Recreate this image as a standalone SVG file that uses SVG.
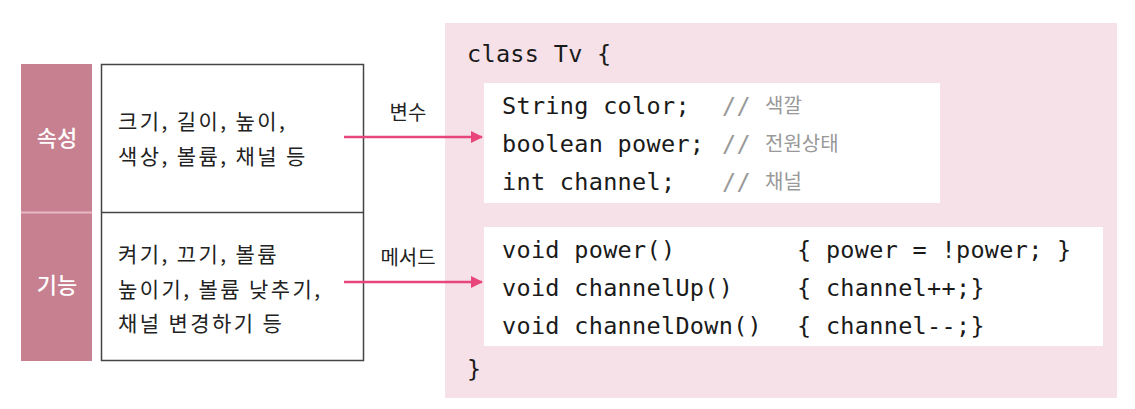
<svg xmlns="http://www.w3.org/2000/svg" width="1135" height="409" viewBox="0 0 1135 409">
<style>
.kr{font-family:"Noto Sans CJK KR","Noto Sans",sans-serif;font-size:21px;fill:#222;letter-spacing:2.4px}
.lbl{font-family:"Noto Sans CJK KR","Noto Sans",sans-serif;font-size:20px;fill:#222;text-anchor:middle}
.lab{font-family:"Noto Sans CJK KR","Noto Sans",sans-serif;font-size:22px;font-weight:500;fill:#fff;text-anchor:middle}
.code{font-family:"DejaVu Sans Mono","Liberation Mono",monospace;font-size:23.5px;fill:#1a1a1a;letter-spacing:0.3px}
.cm{font-family:"DejaVu Sans Mono","Liberation Mono",monospace;font-size:23.5px;fill:#999;letter-spacing:0.3px}
.cmk{font-family:"Noto Sans CJK KR","Noto Sans",sans-serif;font-size:20px;fill:#999}
.conn{stroke:#e8457a;stroke-width:2.5;fill:none}
</style>
<defs>
<marker id="ah" markerWidth="12" markerHeight="12" refX="11" refY="6" orient="auto" markerUnits="userSpaceOnUse">
<path d="M0,0 L12,6 L0,12 z" fill="#e8457a"/>
</marker>
</defs>
<rect width="1135" height="409" fill="#fff"/>
<g id="category">
<rect x="21" y="64" width="71" height="297" fill="#c7808f"/>
<line x1="21" y1="212.5" x2="92" y2="212.5" stroke="#e8b8c4" stroke-width="2"/>
<text class="lab" x="57" y="146">속성</text>
<text class="lab" x="57" y="293">기능</text>
</g>
<g id="desc">
<rect x="101.5" y="64.5" width="262" height="296" fill="#fff" stroke="#444" stroke-width="1.5"/>
<line x1="101.5" y1="212.5" x2="363.5" y2="212.5" stroke="#444" stroke-width="1.5"/>
<text class="kr" x="118" y="129">크기, 길이, 높이,</text>
<text class="kr" x="118" y="164">색상, 볼륨, 채널 등</text>
<text class="kr" x="118" y="262">켜기, 끄기, 볼륨</text>
<text class="kr" x="118" y="297">높이기, 볼륨 낮추기,</text>
<text class="kr" x="118" y="331">채널 변경하기 등</text>
</g>
<g id="class-panel">
<rect x="445" y="23" width="672" height="375" fill="#f5e1e7"/>
<text class="code" x="467" y="62">class Tv {</text>
<text class="code" x="467" y="377">}</text>
</g>
<g id="fields">
<rect x="484" y="83" width="456" height="120" fill="#fff"/>
<text class="code" x="502" y="114">String color;</text>
<text class="cm" x="722" y="114">//</text><text class="cmk" x="765" y="113">색깔</text>
<text class="code" x="502" y="152">boolean power;</text>
<text class="cm" x="722" y="152">//</text><text class="cmk" x="765" y="151">전원상태</text>
<text class="code" x="502" y="190">int channel;</text>
<text class="cm" x="722" y="190">//</text><text class="cmk" x="765" y="189">채널</text>
</g>
<g id="methods">
<rect x="484" y="227" width="619" height="119" fill="#fff"/>
<text class="code" x="502" y="258">void power()</text>
<text class="code" x="797" y="258">{ power = !power; }</text>
<text class="code" x="502" y="296">void channelUp()</text>
<text class="code" x="797" y="296">{ channel++;}</text>
<text class="code" x="502" y="334">void channelDown()</text>
<text class="code" x="797" y="334">{ channel--;}</text>
</g>
<g id="connectors">
<line class="conn" x1="344" y1="137" x2="482" y2="137" marker-end="url(#ah)"/>
<line class="conn" x1="344" y1="282" x2="482" y2="282" marker-end="url(#ah)"/>
<text class="lbl" x="408" y="120">변수</text>
<text class="lbl" x="408" y="265">메서드</text>
</g>
</svg>
